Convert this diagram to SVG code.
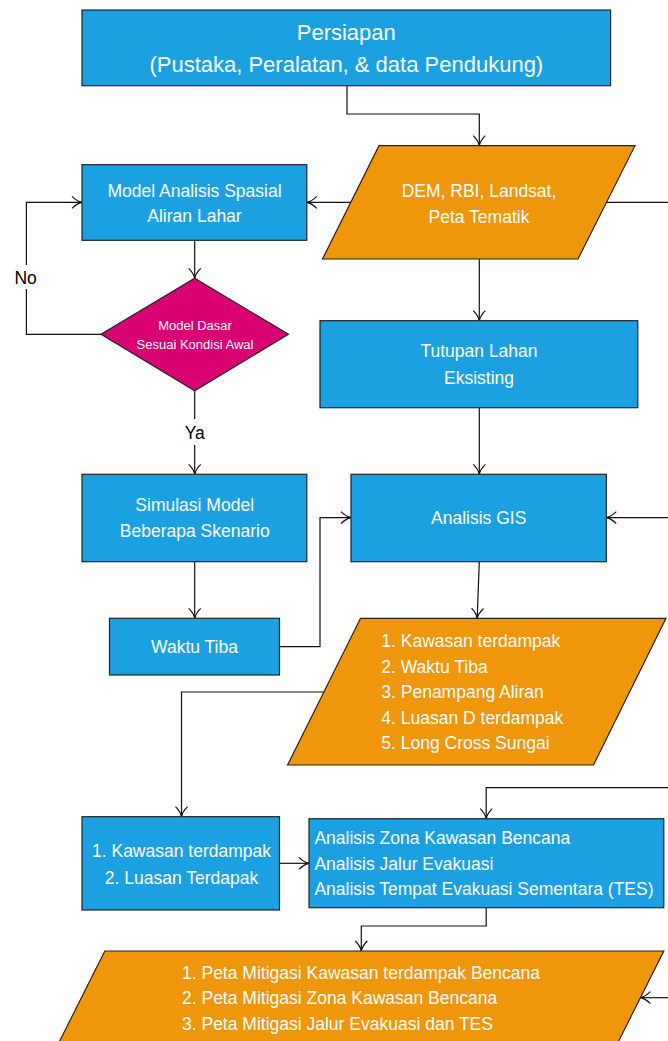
<svg xmlns="http://www.w3.org/2000/svg" width="668" height="1041" viewBox="0 0 668 1041">
<style>
.blue{fill:#1ba1e2;stroke:#222;stroke-width:1.2}
.orange{fill:#f0960b;stroke:#222;stroke-width:1.2}
.mag{fill:#d80073;stroke:#222;stroke-width:1.2}
.t{font-family:"Liberation Sans",Arial,sans-serif;font-size:17.5px;fill:#fff}
.c{text-anchor:middle}
.big{font-size:22px}
.sm{font-size:13px}
.lbl{font-family:"Liberation Sans",Arial,sans-serif;font-size:17.5px;fill:#000;text-anchor:middle}
.conn path{fill:none;stroke:#111;stroke-width:1.2}
.arr path{marker-end:url(#a)}
</style>
<defs>
<marker id="a" viewBox="-11 -7 12 14" refX="0" refY="0" markerWidth="12" markerHeight="14" markerUnits="userSpaceOnUse" orient="auto">
<path d="M-10,-6 Q-5,-1 0,0 Q-5,1 -10,6" fill="none" stroke="#111" stroke-width="1.2"/>
</marker>
</defs>
<rect width="668" height="1041" fill="#fff"/>

<g id="connectors" class="conn">
<g class="arr">
<path d="M347,86 V114 H479.3 V145.7"/>
<path d="M350.8,202.3 H306.8"/>
<path d="M101,334.3 H26.4 V202.3 H82"/>
<path d="M194.7,240.3 V278.3"/>
<path d="M194.7,390.7 V474.3"/>
<path d="M479.3,259 V320.7"/>
<path d="M479.3,407.7 V474.3"/>
<path d="M670,517.7 H606.3"/>
<path d="M194.7,561.7 V618.3"/>
<path d="M279.5,646.7 H320 V517.7 H351"/>
<path d="M479.3,561.7 L477.2,618.3"/>
<path d="M323.9,692 H181.5 V816.7"/>
<path d="M279.5,863.3 H309"/>
<path d="M670,787.7 H486.2 V818.7"/>
<path d="M486.2,907.7 V926 H361.3 V951"/>
<path d="M670,997.7 H640.4"/>
</g>
<path d="M606.8,202.3 H670"/>
</g>

<g id="label-no">
<rect x="14" y="265" width="24" height="24" fill="#fff"/>
<text class="lbl" x="25.6" y="284">No</text>
</g>
<g id="label-ya">
<rect x="183" y="419" width="24" height="26" fill="#fff"/>
<text class="lbl" x="194.7" y="439">Ya</text>
</g>

<g id="persiapan">
<rect class="blue" x="82" y="10" width="528.6" height="75.7"/>
<text class="t c big" x="346.3" y="40">Persiapan</text>
<text class="t c big" x="346.3" y="72">(Pustaka, Peralatan, &amp; data Pendukung)</text>
</g>

<g id="data-input">
<polygon class="orange" points="379,145.7 635,145.7 578,259 322.5,259"/>
<text class="t c" x="479" y="196.5">DEM, RBI, Landsat,</text>
<text class="t c" x="479" y="222.5">Peta Tematik</text>
</g>

<g id="model-analisis">
<rect class="blue" x="82" y="164.7" width="224.8" height="75.6"/>
<text class="t c" x="194.5" y="196.5">Model Analisis Spasial</text>
<text class="t c" x="194.5" y="222.3">Aliran Lahar</text>
</g>

<g id="keputusan">
<polygon class="mag" points="194.7,278.3 288.5,334.3 194.7,390.7 101,334.3"/>
<text class="t c sm" x="195" y="329.6">Model Dasar</text>
<text class="t c sm" x="195" y="348.6">Sesuai Kondisi Awal</text>
</g>

<g id="tutupan-lahan">
<rect class="blue" x="320" y="320.7" width="317.8" height="87"/>
<text class="t c" x="479" y="357">Tutupan Lahan</text>
<text class="t c" x="479" y="383.5">Eksisting</text>
</g>

<g id="simulasi">
<rect class="blue" x="82" y="474.3" width="224.8" height="87.4"/>
<text class="t c" x="194.7" y="511">Simulasi Model</text>
<text class="t c" x="194.7" y="537">Beberapa Skenario</text>
</g>

<g id="analisis-gis">
<rect class="blue" x="351" y="474.3" width="255.3" height="87.4"/>
<text class="t c" x="478.7" y="524">Analisis GIS</text>
</g>

<g id="waktu-tiba">
<rect class="blue" x="109.5" y="618.3" width="170" height="56.7"/>
<text class="t c" x="194.5" y="653">Waktu Tiba</text>
</g>

<g id="hasil-gis">
<polygon class="orange" points="360.5,618.3 666,618.3 593.5,765 287.6,765"/>
<text class="t" x="381.3" y="647">1. Kawasan terdampak</text>
<text class="t" x="381.3" y="672.5">2. Waktu Tiba</text>
<text class="t" x="381.3" y="698">3. Penampang Aliran</text>
<text class="t" x="381.3" y="723.5">4. Luasan D terdampak</text>
<text class="t" x="381.3" y="749">5. Long Cross Sungai</text>
</g>

<g id="kawasan">
<rect class="blue" x="82" y="816.7" width="197.5" height="93.3"/>
<text class="t c" x="181.5" y="857">1. Kawasan terdampak</text>
<text class="t c" x="181.5" y="883.7">2. Luasan Terdapak</text>
</g>

<g id="analisis-zona">
<rect class="blue" x="309" y="818.7" width="354.8" height="89"/>
<text class="t" x="314.4" y="844.4">Analisis Zona Kawasan Bencana</text>
<text class="t" x="314.4" y="869.8">Analisis Jalur Evakuasi</text>
<text class="t" x="314.4" y="895.4">Analisis Tempat Evakuasi Sementara (TES)</text>
</g>

<g id="peta-mitigasi">
<polygon class="orange" points="104.8,951 663.8,951 609.2,1060 50.2,1060"/>
<text class="t" x="182" y="978.8">1. Peta Mitigasi Kawasan terdampak Bencana</text>
<text class="t" x="182" y="1004.4">2. Peta Mitigasi Zona Kawasan Bencana</text>
<text class="t" x="182" y="1030">3. Peta Mitigasi Jalur Evakuasi dan TES</text>
</g>
</svg>
